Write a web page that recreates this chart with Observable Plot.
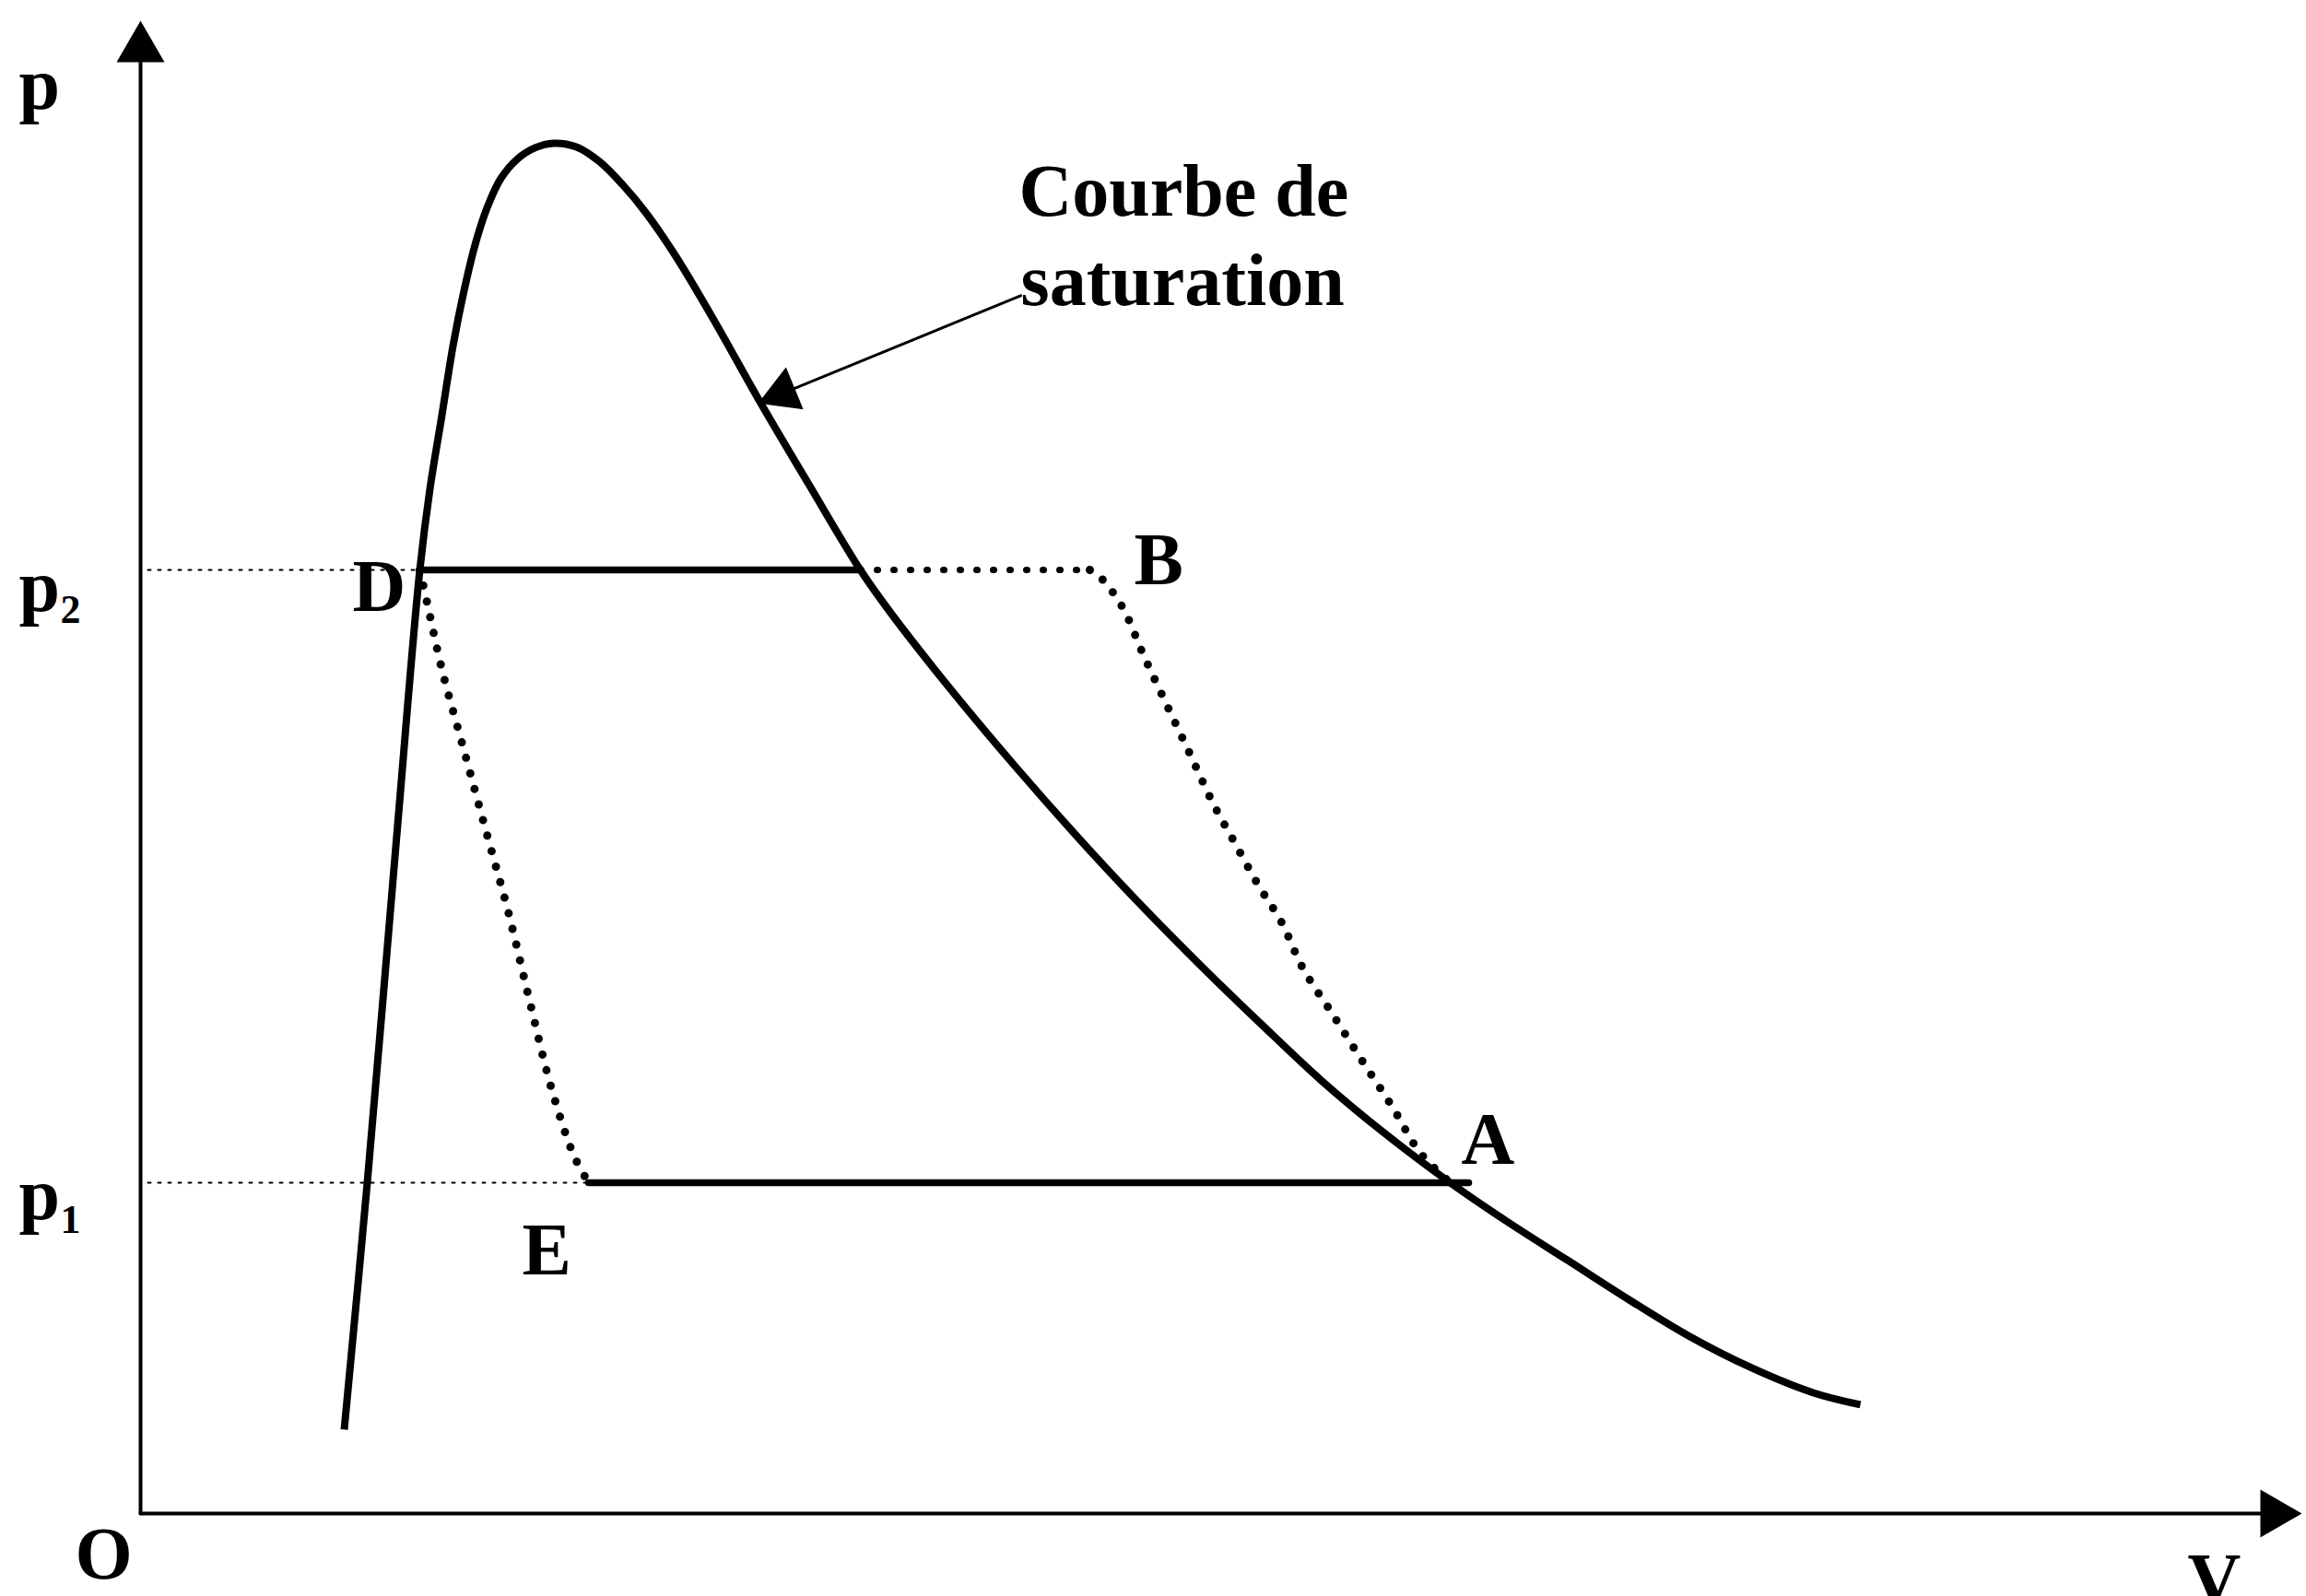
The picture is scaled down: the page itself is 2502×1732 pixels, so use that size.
<!DOCTYPE html>
<html>
<head>
<meta charset="utf-8">
<script src="https://cdn.jsdelivr.net/npm/d3@7"></script>
<script src="https://cdn.jsdelivr.net/npm/@observablehq/plot@0.6"></script>
<style>
html, body { margin: 0; padding: 0; background: #fff; overflow: hidden; }
#chart svg { display: block; }
</style>
</head>
<body>
<div id="chart"></div>
<script>
// ---- Data (V and p in arbitrary units, origin O at (0,0)) ----
// Saturation curve (courbe de saturation)
const satV = [11.05, 12.3, 13.95, 15.15, 15.7, 16.35, 16.95, 17.55, 18.15, 18.8, 19.55, 20.45, 21.4, 22.4,
              23.65, 24.9, 26.15, 27.4, 29.05, 31.25, 33.5, 36.25, 39.05, 40.75, 44.05, 47.4, 50.75,
              54.05, 57.4, 60.75, 64.05, 67.4, 71.05, 74.2, 77.4, 80.75, 84.05, 87.4, 90.75, 93.3];
const satP = [5.69, 22.44, 46.75, 64.0, 69.5, 74.5, 79.19, 82.94, 86.06, 88.56, 90.56, 91.88, 92.63, 92.94,
              92.69, 91.69, 90.13, 88.25, 85.25, 80.63, 75.63, 69.81, 64.0, 61.0, 55.75, 50.75, 46.0,
              41.56, 37.31, 33.25, 29.38, 25.88, 22.44, 19.75, 17.19, 14.5, 12.0, 9.88, 8.19, 7.38];

// Pressures
const p1 = 22.44;
const p2 = 64.0;

// Key volumes
const vGuide = 0.4;      // start of the dotted guide lines at the p axis
const vD = 15.15;        // D on the saturation curve at p2
const vC = 39.05;        // right branch of the curve at p2
const vB = 51.5;         // B
const vE = 24.3;         // E
const vA = 71.05;        // A
const vP1End = 72.05;    // end of the p1 solid segment

// Dotted path B -> A
const baV = [51.5, 52.15, 53.3, 54.4, 55.65, 56.9, 58.15, 59.4, 60.65, 61.9, 63.05, 64.65, 66.25, 67.9, 69.4, 71.05];
const baP = [64.0, 63.4, 61.4, 58.25, 54.9, 51.6, 48.25, 45.4, 42.6, 40.1, 37.0, 33.9, 30.75, 27.6, 24.5, 22.44];

// Dotted path D -> E
const deV = [15.15, 15.55, 16.35, 17.55, 18.75, 19.95, 21.1, 22.3, 23.5, 24.3];
const deP = [64.0, 61.75, 57.25, 51.75, 46.25, 40.8, 34.8, 28.8, 24.3, 22.44];

// Axis extents (arrow tips)
const vAxisEnd = 117.25;
const pAxisEnd = 101.25;

// Annotation arrow: from label to curve
const annStart = [47.75, 82.6];
const annTip = [33.5, 75.3];

// Labels (x = left edge, y = baseline), except "O" which is centred
const startLabels = ["p", "p", "p", "V", "D", "B", "A", "E", "Courbe de", "saturation"];
const startLabelV = [-6.6, -6.6, -6.6, 111.05, 11.5, 53.9, 71.65, 20.7, 47.65, 47.75];
const startLabelP = [95.3, 61.25, 19.94, -6.125, 61.25, 63.06, 23.69, 16.19, 88.06, 82.0];
const originLabel = ["O"];
const originLabelV = [-2.0];
const originLabelP = [-4.375];
const subLabels = ["2", "1"];
const subLabelV = [-4.35, -4.35];
const subLabelP = [60.4, 19.05];

// ---- Layout ----
const W = 2502, H = 1732;
const xDom = [-7.6, 117.5];
const yDom = [-5.625, 102.625];
const kx = W / (xDom[1] - xDom[0]);   // px per V unit
const ky = H / (yDom[1] - yDom[0]);   // px per p unit

const zip = (a, b) => a.map((v, i) => ({x: v, y: b[i]}));
const seg = (x1, y1, x2, y2) => [{x: x1, y: y1}, {x: x2, y: y2}];

const satData = zip(satV, satP);
const baData = zip(baV, baP);
const deData = zip(deV, deP);

// Filled triangle arrowheads (d3.symbolTriangle: tip at 2*|y| from centroid)
const rAxisHead = 19.3;
const rAnnHead = 18.4;
function headAt(tip, dirPx, r) {
  const size = Math.PI * r * r;
  const hy = Math.sqrt(size / (3 * Math.sqrt(3)));
  const len = Math.hypot(dirPx[0], dirPx[1]);
  const ux = dirPx[0] / len, uy = dirPx[1] / len;
  const angle = Math.atan2(ux, -uy) * 180 / Math.PI;
  return {x: tip[0] - 2 * hy * ux / kx, y: tip[1] + 2 * hy * uy / ky, angle};
}
const annDirPx = [(annTip[0] - annStart[0]) * kx, -(annTip[1] - annStart[1]) * ky];
const axisHeads = [
  headAt([0, pAxisEnd], [0, -1], rAxisHead),
  headAt([vAxisEnd, 0], [1, 0], rAxisHead)
];
const annHead = [headAt(annTip, annDirPx, rAnnHead)];

const startData = startLabels.map((t, i) => ({t, x: startLabelV[i], y: startLabelP[i]}));
const originData = originLabel.map((t, i) => ({t, x: originLabelV[i], y: originLabelP[i]}));
const subData = subLabels.map((t, i) => ({t, x: subLabelV[i], y: subLabelP[i]}));
const font = "'Liberation Serif', 'Times New Roman', serif";
const textOpts = {x: "x", y: "y", text: "t", lineAnchor: "bottom", fontWeight: "bold", fontFamily: font, fill: "black"};

const chart = Plot.plot({
  width: W,
  height: H,
  margin: 0,
  x: {domain: xDom, axis: null},
  y: {domain: yDom, axis: null},
  style: {background: "white", overflow: "visible"},
  marks: [
    // axes
    Plot.line(seg(0, 0, 0, pAxisEnd - 1.5), {x: "x", y: "y", stroke: "black", strokeWidth: 4}),
    Plot.line(seg(0, 0, vAxisEnd - 1.5, 0), {x: "x", y: "y", stroke: "black", strokeWidth: 4}),
    Plot.dot(axisHeads, {x: "x", y: "y", r: rAxisHead, symbol: "triangle", fill: "black", stroke: "none", rotate: "angle"}),
    // guide lines at p2 and p1
    Plot.line(seg(vGuide, p2, vD, p2), {x: "x", y: "y", stroke: "black", strokeWidth: 2, strokeDasharray: "3 8"}),
    Plot.line(seg(vGuide, p1, vE, p1), {x: "x", y: "y", stroke: "black", strokeWidth: 2, strokeDasharray: "3 8"}),
    // dotted p2 continuation to B
    Plot.line(seg(vC, p2, vB, p2), {x: "x", y: "y", stroke: "black", strokeWidth: 7, strokeDasharray: "1 17", strokeLinecap: "round"}),
    // dotted B -> A and D -> E
    Plot.line(baData, {x: "x", y: "y", curve: "catmull-rom", stroke: "black", strokeWidth: 9, strokeDasharray: "0 17.5", strokeLinecap: "round"}),
    Plot.line(deData, {x: "x", y: "y", curve: "catmull-rom", stroke: "black", strokeWidth: 9, strokeDasharray: "0 17.5", strokeLinecap: "round"}),
    // solid p2 and p1 segments
    Plot.line(seg(vD, p2, vC, p2), {x: "x", y: "y", stroke: "black", strokeWidth: 7.5}),
    Plot.line(seg(vE, p1, vP1End, p1), {x: "x", y: "y", stroke: "black", strokeWidth: 7.5}),
    // saturation curve
    Plot.line(satData, {x: "x", y: "y", curve: "catmull-rom", stroke: "black", strokeWidth: 8, strokeLinejoin: "round", strokeLinecap: "butt"}),
    // annotation line + arrowhead
    Plot.line([{x: annStart[0], y: annStart[1]}, {x: annHead[0].x, y: annHead[0].y}], {x: "x", y: "y", stroke: "black", strokeWidth: 3}),
    Plot.dot(annHead, {x: "x", y: "y", r: rAnnHead, symbol: "triangle", fill: "black", stroke: "none", rotate: "angle"}),
    // labels
    Plot.text(startData, {...textOpts, textAnchor: "start", fontSize: 80}),
    Plot.text(originData, {...textOpts, textAnchor: "middle", fontSize: 80}),
    Plot.text(subData, {...textOpts, textAnchor: "start", fontSize: 44})
  ]
});
document.getElementById("chart").appendChild(chart);
</script>
</body>
</html>
